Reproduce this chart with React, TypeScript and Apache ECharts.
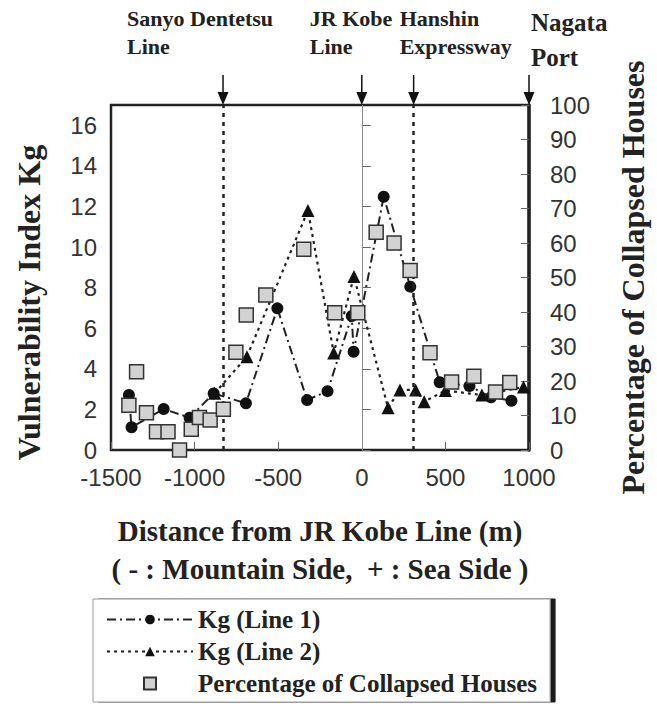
import React, { useEffect, useRef } from 'react';
import * as echarts from 'echarts';

// ---- Data ----
const line1X = [-1393, -1377, -1185, -1030, -886, -693, -505, -327, -205, -60, -49, 131, 290, 466, 644, 773, 895];
const line1Y = [2.71, 1.12, 2.02, 1.59, 2.79, 2.3, 6.98, 2.46, 2.9, 6.6, 4.84, 12.48, 8.05, 3.34, 3.15, 2.6, 2.43];

const line2X = [-880, -687, -322, -168, -47, 157, 228, 322, 373, 500, 718, 967];
const line2Y = [2.8, 4.6, 11.8, 4.78, 8.55, 2.08, 2.96, 2.96, 2.38, 2.93, 2.71, 3.1];

const pctX = [-1393, -1347, -1288, -1228, -1159, -1090, -1020, -971, -907, -828, -753, -691, -574, -347, -162, -24, 86, 193, 289, 408, 537, 670, 800, 885];
const pctY = [13.0, 22.7, 10.8, 5.3, 5.3, 0, 6.0, 9.4, 8.7, 11.8, 28.3, 39.1, 44.9, 58.2, 39.8, 39.8, 63.1, 60.0, 52.0, 28.2, 19.7, 21.4, 16.8, 19.6];

const seriesNames = ['Kg (Line 1)', 'Kg (Line 2)', 'Percentage of Collapsed Houses'];

const xMin = -1500;
const xMax = 1000;
const xInterval = 500;
const kgMax = 17;
const kgInterval = 2;
const pctMax = 100;
const pctInterval = 10;

const guideLineX = [-830, 0, 310];
const landmarkX = [-830, 0, 310, 1000];
const landmarkLabels = ['Sanyo Dentetsu\nLine', 'JR Kobe\nLine', 'Hanshin\nExpressway', 'Nagata\nPort'];

const xTitle = 'Distance from JR Kobe Line (m)';
const xSubtitle = '( - : Mountain Side,  + : Sea Side )';
const leftTitle = 'Vulnerability Index Kg';
const rightTitle = 'Percentage of Collapsed Houses';

// ---- styling ----
const serif = '"Liberation Serif", "Times New Roman", serif';
const sans = '"Liberation Sans", Arial, sans-serif';
const labelOffsets = [-96, -52, -14, 2];
const labelFont = [22, 22, 22, 25];
const labelLineY = [[18, 46], [18, 46], [18, 46], [22, 57]];
const squareIcon = 'path://M0,0L10,0L10,10L0,10Z';

export default function App() {
  const ref = useRef<HTMLDivElement>(null);

  useEffect(() => {
    document.body.style.margin = '0';
    if (!ref.current) return;
    const chart = echarts.init(ref.current, undefined, { renderer: 'svg' });

    const tickLabel = {
      fontFamily: sans, fontSize: 24, color: '#333',
      formatter: (v: number) => String(v),
    };

    const option: any = {
      animation: false,
      backgroundColor: '#fff',
      grid: {
        left: 111, right: 125.5, top: 105, bottom: 254,
        show: true, borderColor: '#222', borderWidth: 2.5, backgroundColor: 'transparent',
      },
      xAxis: {
        type: 'value', min: xMin, max: xMax, interval: xInterval,
        axisLine: { show: false },
        axisTick: { show: true, inside: true, length: 8, lineStyle: { color: '#666', width: 1 } },
        axisLabel: { ...tickLabel, margin: 15 },
        splitLine: { show: false },
        name: xTitle + '\n' + xSubtitle,
        nameLocation: 'middle',
        nameGap: 62,
        nameTextStyle: { fontFamily: serif, fontWeight: 'bold', fontSize: 29, color: '#222', lineHeight: 38 },
      },
      yAxis: [
        {
          type: 'value', min: 0, max: kgMax, interval: kgInterval, position: 'left',
          axisLine: { show: false },
          axisTick: { show: true, inside: true, length: 9, lineStyle: { color: '#666', width: 1 } },
          axisLabel: { ...tickLabel, margin: 14, showMaxLabel: false },
          splitLine: { show: false },
          name: leftTitle, nameLocation: 'middle', nameRotate: 90, nameGap: 66,
          nameTextStyle: { fontFamily: serif, fontWeight: 'bold', fontSize: 32, color: '#222', padding: [0, 50, 0, 0] },
        },
        {
          type: 'value', min: 0, max: pctMax, interval: pctInterval, position: 'right',
          axisLine: { show: true, lineStyle: { color: '#222', width: 3.5 } },
          axisTick: { show: true, inside: true, length: 8, lineStyle: { color: '#666', width: 1 } },
          axisLabel: { ...tickLabel, margin: 21 },
          splitLine: { show: false },
          name: rightTitle, nameLocation: 'middle', nameRotate: 90, nameGap: 88,
          nameTextStyle: { fontFamily: serif, fontWeight: 'bold', fontSize: 32, color: '#222' },
        },
      ],
      legend: {
        orient: 'vertical', left: 93, top: 599,
        itemWidth: 86, itemHeight: 12, itemGap: 7,
        padding: [8, 13, 6, 13],
        backgroundColor: '#fff', borderColor: '#999', borderWidth: 1,
        shadowColor: '#1a1a1a', shadowOffsetX: 5, shadowOffsetY: 0, shadowBlur: 0,
        textStyle: { fontFamily: serif, fontWeight: 'bold', fontSize: 25, color: '#222' },
        data: [
          { name: seriesNames[0] },
          { name: seriesNames[1] },
          { name: seriesNames[2], icon: squareIcon },
        ],
      },
      series: [
        {
          name: seriesNames[0], type: 'line', yAxisIndex: 0,
          data: line1X.map((x, i) => [x, line1Y[i]]),
          symbol: 'circle', symbolSize: 12,
          itemStyle: { color: '#111' },
          lineStyle: { color: '#222', width: 2, type: [9, 4, 2, 4] },
          z: 3,
          markLine: {
            silent: true, symbol: ['none', 'none'], label: { show: false },
            data: guideLineX.map((x) => ({
              xAxis: x,
              lineStyle: x === 0
                ? { color: '#888', width: 1, type: 'solid' }
                : { color: '#222', width: 2.5, type: [4, 5] },
            })),
          },
        },
        {
          name: seriesNames[1], type: 'line', yAxisIndex: 0,
          data: line2X.map((x, i) => [x, line2Y[i]]),
          symbol: 'triangle', symbolSize: 13,
          itemStyle: { color: '#111' },
          lineStyle: { color: '#222', width: 2.2, type: [3, 4] },
          z: 3,
        },
        {
          name: seriesNames[2], type: 'scatter', yAxisIndex: 1,
          data: pctX.map((x, i) => [x, pctY[i]]),
          symbol: 'rect', symbolSize: 14,
          itemStyle: { color: '#d2d2d2', borderColor: '#333', borderWidth: 1.5, opacity: 1 },
          z: 5,
        },
      ],
    };

    chart.setOption(option);

    const top = 105;
    const graphics: any[] = [];
    landmarkX.forEach((v, i) => {
      const px = chart.convertToPixel({ xAxisIndex: 0 }, v) as number;
      graphics.push({
        type: 'line', shape: { x1: px, y1: 75, x2: px, y2: top - 10 },
        style: { stroke: '#111', lineWidth: 1.5 },
      });
      graphics.push({
        type: 'polygon', shape: { points: [[px - 5.5, top - 13], [px + 5.5, top - 13], [px, top]] },
        style: { fill: '#111' },
      });
      const lines = landmarkLabels[i].split('\n');
      lines.forEach((t, j) => {
        graphics.push({
          type: 'text', x: px + labelOffsets[i], y: labelLineY[i][j],
          style: {
            text: t, fill: '#222', fontFamily: serif, fontWeight: 'bold',
            fontSize: labelFont[i], verticalAlign: 'middle', align: 'left',
          },
        });
      });
    });
    chart.setOption({ graphic: graphics });

    return () => chart.dispose();
  }, []);

  return <div ref={ref} style={{ width: 657, height: 704 }} />;
}
